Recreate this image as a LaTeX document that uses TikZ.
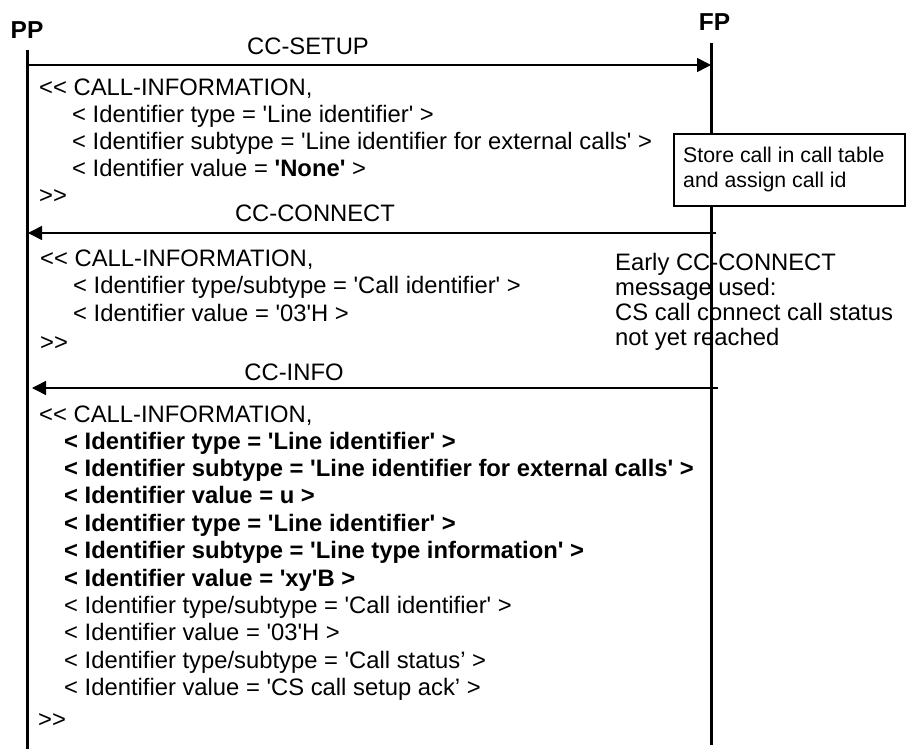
\documentclass[tikz,border=0pt]{standalone}
\usepackage{fontspec}
\setmainfont{Liberation Sans}[Ligatures=TeXOff]
\usetikzlibrary{arrows.meta}
\begin{document}
\begin{tikzpicture}[x=1pt,y=-1pt,
  life/.style={line width=3pt},
  msg/.style={line width=1.6pt,-{Triangle[length=14pt,width=14pt]}},
  txt/.style={anchor=base west,inner sep=0pt,font=\fontsize{23.8}{27}\selectfont},
  msglabel/.style={anchor=base,inner sep=0pt,font=\fontsize{23.8}{27}\selectfont},
  entity/.style={anchor=base,inner sep=0pt,font=\fontsize{24.5}{27}\selectfont\bfseries},
  note/.style={anchor=base west,inner sep=0pt,font=\fontsize{21.3}{25}\selectfont},
  boxline/.style={line width=1.5pt}]
\useasboundingbox (0,0) rectangle (906,749);
% entities
\node[entity] (PP) at (27,38.5) {PP};
\node[entity] (FP) at (714.5,31) {FP};
% lifelines
\coordinate (pptop) at (27,50);
\coordinate (ppbot) at (27,749);
\coordinate (fptop) at (711,43);
\coordinate (fpbot) at (711,745);
\draw[life] (pptop) -- (ppbot);
\draw[life] (fptop) -- (fpbot);
% CC-SETUP
\coordinate (s1) at (27,65);
\coordinate (s2) at (711,65);
\draw[msg] (s1) -- (s2);
\node[msglabel] (lsetup) at (308,55) {CC-SETUP};
% block 1
\node[txt] (a0) at (39,96) {<< CALL-INFORMATION,};
\node[txt] (a1) at (72,123) {< Identifier type = 'Line identifier' >};
\node[txt] (a2) at (72,150) {< Identifier subtype = 'Line identifier for external calls' >};
\node[txt] (a3) at (72,177) {< Identifier value = \textbf{'None'} >};
\node[txt] (a4) at (39,204) {>>};
% box
\draw[boxline,fill=white] (674,134) rectangle (905,206);
\node[note] (n1) at (683,162.5) {Store call in call table};
\node[note] (n2) at (683,187.5) {and assign call id};
% CC-CONNECT
\coordinate (c1) at (716,233);
\coordinate (c2) at (28,233);
\draw[msg] (c1) -- (c2);
\node[msglabel] (lconnect) at (315,221.5) {CC-CONNECT};
% block 2
\node[txt] (b0) at (40,266.5) {<< CALL-INFORMATION,};
\node[txt] (b1) at (73,293.5) {< Identifier type/subtype = 'Call identifier' >};
\node[txt] (b2) at (73,321.5) {< Identifier value = '03'H >};
\node[txt] (b3) at (40,350) {>>};
% early note
\node[txt] (e1) at (615,270.5) {Early CC-CONNECT};
\node[txt] (e2) at (615,295.5) {message used:};
\node[txt] (e3) at (615,320.5) {CS call connect call status};
\node[txt] (e4) at (615,345.5) {not yet reached};
% CC-INFO
\coordinate (i1) at (718,388);
\coordinate (i2) at (32,388);
\draw[msg] (i1) -- (i2);
\node[msglabel] (linfo) at (294,380.5) {CC-INFO};
% block 3
\node[txt] (d0) at (39,422) {<< CALL-INFORMATION,};
\node[txt] (d1) at (64,449) {\textbf{< Identifier type = 'Line identifier' >}};
\node[txt] (d2) at (64,476.5) {\textbf{< Identifier subtype = 'Line identifier for external calls' >}};
\node[txt] (d3) at (64,503.5) {\textbf{< Identifier value = u >}};
\node[txt] (d4) at (64,531) {\textbf{< Identifier type = 'Line identifier' >}};
\node[txt] (d5) at (64,558.5) {\textbf{< Identifier subtype = 'Line type information' >}};
\node[txt] (d6) at (64,586) {\textbf{< Identifier value = 'xy'B >}};
\node[txt] (d7) at (64,613.5) {< Identifier type/subtype = 'Call identifier' >};
\node[txt] (d8) at (64,640.5) {< Identifier value = '03'H >};
\node[txt] (d9) at (64,668) {< Identifier type/subtype = 'Call status’ >};
\node[txt] (d10) at (64,695.5) {< Identifier value = 'CS call setup ack’ >};
\node[txt] (d11) at (38,727.5) {>>};
\end{tikzpicture}
\end{document}
